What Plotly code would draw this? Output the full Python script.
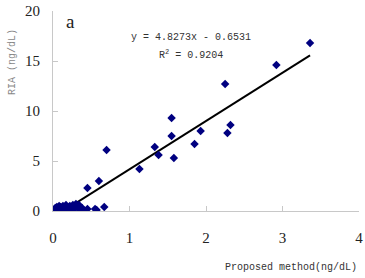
import plotly.graph_objects as go

# measured points (proposed method vs RIA), ng/dL
proposed = [0.02, 0.03, 0.04, 0.05, 0.06, 0.07, 0.08, 0.09, 0.10, 0.11,
            0.12, 0.13, 0.14, 0.15, 0.16, 0.17, 0.18, 0.20, 0.22, 0.24,
            0.26, 0.28, 0.30, 0.32, 0.34, 0.36, 0.38, 0.40, 0.45, 0.55,
            0.57, 0.67, 0.45, 0.60, 0.70, 1.13, 1.33, 1.38, 1.55, 1.55,
            1.58, 1.85, 1.93, 2.25, 2.28, 2.32, 2.92, 3.36]
ria = [0.1, 0.3, 0.2, 0.4, 0.1, 0.3, 0.5, 0.2, 0.4, 0.1,
       0.3, 0.5, 0.2, 0.1, 0.4, 0.6, 0.2, 0.3, 0.5, 0.1,
       0.6, 0.2, 0.7, 0.4, 0.6, 0.1, 0.3, 0.1, 0.2, 0.2,
       0.1, 0.4, 2.3, 3.0, 6.1, 4.2, 6.4, 5.6, 9.3, 7.5,
       5.3, 6.7, 8.0, 12.7, 7.8, 8.6, 14.6, 16.8]

# linear trendline coefficients
slope = 4.8273
intercept = -0.6531

x_ticks = [0, 1, 2, 3, 4]
y_ticks = [0, 5, 10, 15, 20]

x_fit = [min(proposed), max(proposed)]
y_fit = [slope * v + intercept for v in x_fit]

fig = go.Figure()
fig.add_trace(go.Scatter(x=x_fit, y=y_fit, mode='lines',
                         line=dict(color='black', width=2), showlegend=False))
fig.add_trace(go.Scatter(x=proposed, y=ria, mode='markers',
                         marker=dict(symbol='diamond', size=6.5, color='#000080'),
                         showlegend=False))

serif = 'Liberation Serif'
mono = 'Liberation Mono'

fig.update_layout(
    width=365, height=278,
    margin=dict(l=53, r=6, t=11, b=67),
    paper_bgcolor='white', plot_bgcolor='white',
    font=dict(family=serif, size=15, color='#222'),
    xaxis=dict(range=[0, 4], tickvals=x_ticks, showgrid=False, zeroline=False,
               showline=True, linecolor='#c8c8c8', linewidth=1,
               ticks='inside', ticklen=5, tickcolor='#c8c8c8',
               ticklabelstandoff=13, automargin=False),
    yaxis=dict(range=[0, 20], tickvals=y_ticks, showgrid=False, zeroline=False,
               showline=True, linecolor='#c8c8c8', linewidth=1,
               ticks='inside', ticklen=5, tickcolor='#c8c8c8',
               ticklabelstandoff=9, automargin=False),
    annotations=[
        dict(text='a', x=70, y=21,
             font=dict(family=serif, size=19, color='#222')),
        dict(text='y = 4.8273x - 0.6531', x=191, y=37,
             font=dict(family=mono, size=10, color='#333')),
        dict(text='R<sup>2</sup> = 0.9204', x=191, y=55,
             font=dict(family=mono, size=10, color='#333')),
        dict(text='Proposed method(ng/dL)', x=291, y=267,
             font=dict(family=mono, size=10, color='#333')),
        dict(text='RIA (ng/dL)', x=12, y=62, textangle=-90,
             font=dict(family=mono, size=10, color='#888')),
    ],
)

# annotations above are given in pixel positions; convert to paper coords
pw = 365 - 53 - 6
ph = 278 - 11 - 67
for a in fig.layout.annotations:
    a.showarrow = False
    a.xref = 'paper'
    a.yref = 'paper'
    a.xanchor = 'center'
    a.yanchor = 'middle'
    a.x = (a.x - 53) / pw
    a.y = 1 - (a.y - 11) / ph

# drop the default page margin so the figure sits at the window corner
fig.write_html('out.html', config={'displayModeBar': False},
               post_script="document.body.style.margin='0';")
